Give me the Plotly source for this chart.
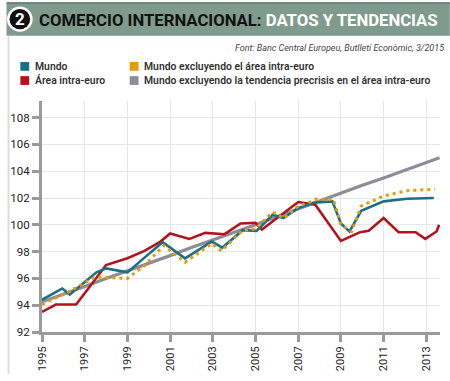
import plotly.graph_objects as go

# ---------------- data ----------------
red_x = [1995.0, 1995.65, 1996.6, 1998.0, 1999.0, 1999.8, 2000.55, 2001.0, 2001.9, 2002.65,
         2003.55, 2004.3, 2005.0, 2005.3, 2007.0, 2007.8, 2009.0, 2009.9, 2010.3, 2011.0,
         2011.7, 2012.5, 2012.95, 2013.48, 2013.6]
red_y = [93.5, 94.05, 94.05, 97.0, 97.5, 98.05, 98.75, 99.35, 98.95, 99.4,
         99.3, 100.1, 100.15, 99.65, 101.7, 101.5, 98.8, 99.45, 99.55, 100.5,
         99.45, 99.45, 98.95, 99.5, 100.0]

blue_x = [1995.0, 1995.95, 1996.3, 1997.55, 1998.0, 1999.0, 1999.8, 2000.65, 2001.7, 2002.95,
          2003.45, 2004.4, 2005.05, 2005.8, 2006.3, 2007.0, 2007.7, 2008.6, 2009.0, 2009.4,
          2009.95, 2011.0, 2012.1, 2013.35]
blue_y = [94.4, 95.25, 94.8, 96.45, 96.75, 96.45, 97.55, 98.7, 97.5, 98.75,
          98.3, 99.6, 99.55, 100.75, 100.5, 101.25, 101.65, 101.75, 100.1, 99.5,
          101.05, 101.75, 101.95, 102.0]

orange_x = [1995.0, 1996.25, 1997.5, 1999.0, 1999.8, 2000.7, 2001.7, 2002.95, 2003.4, 2004.4,
            2005.0, 2005.8, 2006.35, 2007.0, 2007.55, 2007.8, 2008.65, 2009.0, 2009.5, 2009.95,
            2011.0, 2012.1, 2013.4]
orange_y = [94.05, 95.0, 96.1, 96.0, 96.95, 98.45, 97.2, 98.6, 98.05, 99.6,
            99.7, 100.95, 100.5, 101.4, 101.7, 101.9, 101.9, 100.0, 99.5, 101.4,
            102.15, 102.55, 102.65]

gray_x = [1995, 1996, 1997, 1998, 1999, 2000, 2001, 2002, 2003, 2004, 2005, 2006, 2007,
          2008, 2009, 2010, 2011, 2012, 2013, 2013.62]
gray_y = [94.25, 94.8, 95.4, 96.0, 96.55, 97.1, 97.7, 98.3, 98.85, 99.4, 100.0, 100.6, 101.2,
          101.8, 102.4, 102.95, 103.5, 104.05, 104.6, 105.0]

series_names = ["Mundo", "Área intra-euro", "Mundo excluyendo el área intra-euro",
                "Mundo excluyendo la tendencia precrisis en el área intra-euro"]
x_ticks = list(range(1995, 2014, 2))
y_ticks = list(range(92, 109, 2))

title_dark = "COMERCIO INTERNACIONAL:"
title_light = "DATOS Y TENDENCIAS"
source = "Font: Banc Central Europeu, Butlletí Econòmic, 3/2015"

# ---------------- colours ----------------
C_BLUE = "#1d6e87"
C_RED = "#b3141c"
C_ORANGE = "#e39b12"
C_GRAY = "#8c8d99"
C_BANNER = "#7f9b8d"

W, H = 450, 381
L, R, T, B = 36, 10, 101, 43
PW, PH = W - L - R, H - T - B

def px(x):
    return (x - L) / PW

def py(y):
    return (H - B - y) / PH

FONT = "Roboto, sans-serif"

fig = go.Figure()
fig.add_trace(go.Scatter(x=gray_x, y=gray_y, mode="lines", name=series_names[3],
                         line=dict(color=C_GRAY, width=3.2)))
fig.add_trace(go.Scatter(x=red_x, y=red_y, mode="lines", name=series_names[1],
                         line=dict(color=C_RED, width=2.6)))
fig.add_trace(go.Scatter(x=blue_x, y=blue_y, mode="lines", name=series_names[0],
                         line=dict(color=C_BLUE, width=2.6)))
fig.add_trace(go.Scatter(x=orange_x, y=orange_y, mode="lines", name=series_names[2],
                         line=dict(color=C_ORANGE, width=3, dash="3px,4px")))

shapes = []
annotations = []

# banner
shapes.append(dict(type="rect", xref="paper", yref="paper", x0=px(0), x1=px(W),
                   y0=py(34), y1=py(0), fillcolor=C_BANNER, line=dict(width=0), layer="below"))
shapes.append(dict(type="line", xref="paper", yref="paper", x0=px(0), x1=px(W),
                   y0=py(0.5), y1=py(0.5), line=dict(color="#5f7a6c", width=1.5)))
# left frame line
shapes.append(dict(type="line", xref="paper", yref="paper", x0=px(2), x1=px(2),
                   y0=py(H), y1=py(34), line=dict(color="#dcdcdc", width=2)))
# circle badge
shapes.append(dict(type="circle", xref="paper", yref="paper", x0=px(0.5), x1=px(26.5),
                   y0=py(30), y1=py(4), fillcolor="white", line=dict(width=0)))
shapes.append(dict(type="circle", xref="paper", yref="paper", x0=px(3), x1=px(24),
                   y0=py(27.5), y1=py(6.5), fillcolor="#111111", line=dict(width=0)))
annotations.append(dict(xref="paper", yref="paper", x=px(13.5), y=py(17), text="<b>2</b>",
                        showarrow=False, xanchor="center", yanchor="middle",
                        font=dict(family=FONT, size=17, color="white")))
annotations.append(dict(xref="paper", yref="paper", x=px(31), y=py(18),
                        text="<b>" + title_dark + " <span style='color:white'>" + title_light + "</span></b>",
                        showarrow=False, xanchor="left", yanchor="middle",
                        font=dict(family=FONT, size=16.7, color="#111111")))
annotations.append(dict(xref="paper", yref="paper", x=px(446), y=py(47), text="<i>" + source + "</i>",
                        showarrow=False, xanchor="right", yanchor="middle",
                        font=dict(family=FONT, size=9, color="#444444")))

# legend (manual)
leg = [(series_names[0], C_BLUE, 14, 65.5), (series_names[1], C_RED, 14, 80),
       (series_names[2], C_ORANGE, 125, 65.5), (series_names[3], C_GRAY, 125, 80)]
for name, col, lx, ly in leg:
    shapes.append(dict(type="rect", xref="paper", yref="paper", x0=px(lx), x1=px(lx + 9),
                       y0=py(ly + 4.5), y1=py(ly - 4.5), fillcolor=col, line=dict(width=0)))
    annotations.append(dict(xref="paper", yref="paper", x=px(lx + 13), y=py(ly), text=name,
                            showarrow=False, xanchor="left", yanchor="middle",
                            font=dict(family=FONT, size=10.4, color="#333333", weight=600)))

fig.update_layout(
    width=W, height=H, margin=dict(l=L, r=R, t=T, b=B, pad=0),
    paper_bgcolor="white", plot_bgcolor="white", showlegend=False,
    shapes=shapes, annotations=annotations,
    xaxis=dict(range=[1995, 2013.64], tickvals=x_ticks, ticktext=[str(v) for v in x_ticks],
               tickangle=-90, showgrid=True, gridcolor="#e2e8e6", gridwidth=1,
               showline=True, linecolor="#9a9a9a", linewidth=3,
               ticks="outside", ticklen=7, tickwidth=3, tickcolor="#9a9a9a",
               tickfont=dict(family=FONT, size=11, color="#222222"), zeroline=False),
    yaxis=dict(range=[92, 109.24], tickvals=y_ticks, ticktext=[str(v) for v in y_ticks],
               showgrid=True, gridcolor="#e2e8e6", gridwidth=1,
               showline=True, linecolor="#9a9a9a", linewidth=3,
               ticks="outside", ticklen=7, tickwidth=3, tickcolor="#9a9a9a",
               tickfont=dict(family=FONT, size=11.5, color="#222222"), zeroline=False),
)

fig.write_html("out.html", config={"displayModeBar": False},
               post_script="document.body.style.margin='0';")
